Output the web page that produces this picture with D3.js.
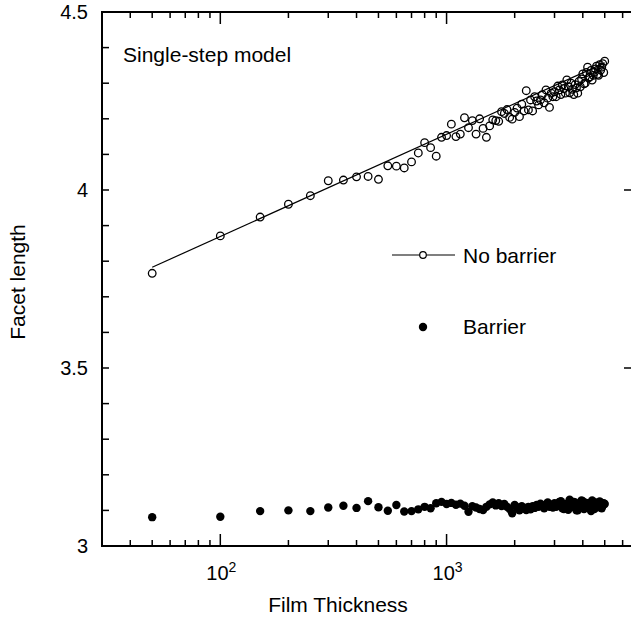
<!DOCTYPE html>
<html lang="en">
<head>
    <meta charset="UTF-8">
    <title>Facet length vs film thickness</title>
    <script src="https://d3js.org/d3.v7.min.js"></script>
    <style>
        body { margin: 0; background: #fff; }
        text { font-family: "Liberation Sans", Arial, sans-serif; fill: #000; }
    </style>
</head>
<body>
    <script>

        // film thickness (x), same for both runs
        var thickness = [50, 100, 150, 200, 250, 300, 350, 400, 450, 500,
            550, 600, 650, 700, 750, 800, 850, 900, 950, 1000,
            1050, 1100, 1150, 1200, 1250, 1300, 1350, 1400, 1450, 1500,
            1550, 1600, 1650, 1700, 1750, 1800, 1850, 1900, 1950, 2000,
            2050, 2100, 2150, 2200, 2250, 2300, 2350, 2400, 2450, 2500,
            2550, 2600, 2650, 2700, 2750, 2800, 2850, 2900, 2950, 3000,
            3050, 3100, 3150, 3200, 3250, 3300, 3350, 3400, 3450, 3500,
            3550, 3600, 3650, 3700, 3750, 3800, 3850, 3900, 3950, 4000,
            4050, 4100, 4150, 4200, 4250, 4300, 4350, 4400, 4450, 4500,
            4550, 4600, 4650, 4700, 4750, 4800, 4850, 4900, 4950, 5000]

        var noBarrier = [3.766, 3.871, 3.924, 3.960, 3.984, 4.026, 4.028, 4.037, 4.038, 4.030,
            4.068, 4.067, 4.062, 4.079, 4.104, 4.133, 4.119, 4.095, 4.148, 4.153,
            4.185, 4.150, 4.157, 4.203, 4.175, 4.195, 4.157, 4.200, 4.173, 4.148,
            4.180, 4.197, 4.195, 4.193, 4.220, 4.215, 4.226, 4.204, 4.199, 4.218,
            4.230, 4.206, 4.241, 4.222, 4.279, 4.225, 4.253, 4.222, 4.262, 4.250,
            4.239, 4.253, 4.268, 4.245, 4.281, 4.258, 4.232, 4.272, 4.262, 4.276,
            4.262, 4.292, 4.281, 4.268, 4.295, 4.285, 4.272, 4.309, 4.290, 4.273,
            4.300, 4.283, 4.268, 4.296, 4.287, 4.272, 4.305, 4.290, 4.312, 4.326,
            4.298, 4.300, 4.330, 4.345, 4.315, 4.318, 4.336, 4.309, 4.322, 4.331,
            4.340, 4.348, 4.325, 4.322, 4.352, 4.337, 4.345, 4.355, 4.330, 4.362]

        var barrier = [3.081, 3.082, 3.098, 3.100, 3.098, 3.108, 3.113, 3.107, 3.126, 3.109,
            3.099, 3.115, 3.097, 3.098, 3.103, 3.110, 3.106, 3.120, 3.124, 3.118,
            3.121, 3.116, 3.119, 3.113, 3.096, 3.112, 3.108, 3.104, 3.101, 3.110,
            3.117, 3.122, 3.114, 3.120, 3.112, 3.118, 3.110, 3.104, 3.092, 3.115,
            3.108, 3.100, 3.112, 3.105, 3.101, 3.110, 3.103, 3.112, 3.107, 3.115,
            3.110, 3.119, 3.112, 3.106, 3.117, 3.122, 3.110, 3.115, 3.108, 3.120,
            3.110, 3.113, 3.124, 3.126, 3.106, 3.104, 3.118, 3.118, 3.102, 3.130,
            3.112, 3.110, 3.124, 3.122, 3.100, 3.100, 3.116, 3.116, 3.128, 3.126,
            3.104, 3.108, 3.121, 3.120, 3.112, 3.112, 3.098, 3.128, 3.115, 3.104,
            3.122, 3.118, 3.109, 3.110, 3.125, 3.122, 3.106, 3.114, 3.120, 3.118]

        // fitted line through the no-barrier points (end points)
        var fitX = [50, 5000]
        var fitY = [3.783, 4.357]

        var yTicks = [3, 3.5, 4, 4.5]
        var xTickExp = [2, 3]

        var w = 631, h = 617
        var padL = 102, padR = 632, padT = 12, padB = 546

        var svg = d3.select('body')
                    .append('svg')
                    .attr('width', w)
                    .attr('height', h)

        var xScale = d3.scaleLog()
                        .domain([30, 6600])
                        .range([padL, padR])

        var yScale = d3.scaleLinear()
                        .domain([3, 4.5])
                        .range([padB, padT])

        var minorX = [], majorX = []
        ;[10, 100, 1000].forEach(function (dec) {
            for (var k = 1; k <= 9; k++) {
                var v = dec * k
                if (v < 30 || v > 6600) continue
                if (k === 1) majorX.push(v); else minorX.push(v)
            }
        })
        var yMinor = d3.range(30, 46).map(function (d) { return d / 10 })

        // axes frame
        var axes = svg.append('g').attr('stroke', '#000')

        axes.selectAll('.xminb').data(minorX).enter().append('line')
            .attr('x1', d => xScale(d)).attr('x2', d => xScale(d))
            .attr('y1', padB).attr('y2', padB - 6).attr('stroke-width', 1.5)
        axes.selectAll('.xmajb').data(majorX).enter().append('line')
            .attr('x1', d => xScale(d)).attr('x2', d => xScale(d))
            .attr('y1', padB).attr('y2', padB - 12).attr('stroke-width', 1.5)
        axes.selectAll('.xmint').data(minorX).enter().append('line')
            .attr('x1', d => xScale(d)).attr('x2', d => xScale(d))
            .attr('y1', padT).attr('y2', padT + 6).attr('stroke-width', 1.5)
        axes.selectAll('.xmajt').data(majorX).enter().append('line')
            .attr('x1', d => xScale(d)).attr('x2', d => xScale(d))
            .attr('y1', padT).attr('y2', padT + 12).attr('stroke-width', 1.5)

        axes.selectAll('.yl').data(yMinor).enter().append('line')
            .attr('x1', padL).attr('x2', padL + 7)
            .attr('y1', d => yScale(d)).attr('y2', d => yScale(d)).attr('stroke-width', 1.5)
        axes.selectAll('.yr').data(yTicks).enter().append('line')
            .attr('x1', padR).attr('x2', padR - 8)
            .attr('y1', d => yScale(d)).attr('y2', d => yScale(d)).attr('stroke-width', 1.5)

        axes.append('rect')
            .attr('x', padL).attr('y', padT)
            .attr('width', padR - padL).attr('height', padB - padT)
            .attr('fill', 'none').attr('stroke-width', 2)

        // tick labels
        svg.selectAll('.ylab').data(yTicks).enter().append('text')
            .attr('x', 88).attr('y', d => yScale(d) + 7)
            .attr('text-anchor', 'end').attr('font-size', 20)
            .text(d => d)

        var xl = svg.selectAll('.xlab').data(xTickExp).enter().append('text')
            .attr('x', d => xScale(Math.pow(10, d)) - 14)
            .attr('y', 580).attr('font-size', 20)
        xl.append('tspan').text('10')
        xl.append('tspan').attr('dy', -8).attr('font-size', 14).text(d => d)

        svg.append('text')
            .attr('x', 338).attr('y', 612)
            .attr('text-anchor', 'middle').attr('font-size', 21)
            .text('Film Thickness')

        svg.append('text')
            .attr('transform', 'translate(25,' + 282 + ') rotate(-90)')
            .attr('text-anchor', 'middle').attr('font-size', 21)
            .text('Facet length')

        svg.append('text')
            .attr('x', 123).attr('y', 62).attr('font-size', 21)
            .text('Single-step model')

        // fit line
        var line = d3.line()
                    .x(d => xScale(d[0]))
                    .y(d => yScale(d[1]))
        svg.append('path')
            .datum(d3.zip(fitX, fitY))
            .attr('d', line)
            .attr('fill', 'none').attr('stroke', '#000').attr('stroke-width', 1.2)

        // points
        svg.selectAll('.open').data(d3.zip(thickness, noBarrier)).enter().append('circle')
            .attr('cx', d => xScale(d[0])).attr('cy', d => yScale(d[1]))
            .attr('r', 3.8).attr('fill', 'none').attr('stroke', '#000').attr('stroke-width', 1.3)

        svg.selectAll('.filled').data(d3.zip(thickness, barrier)).enter().append('circle')
            .attr('cx', d => xScale(d[0])).attr('cy', d => yScale(d[1]))
            .attr('r', 4.2).attr('fill', '#000')

        // legend
        var lg = svg.append('g')
        lg.append('line').attr('x1', 392).attr('x2', 455).attr('y1', 255).attr('y2', 255)
            .attr('stroke', '#000').attr('stroke-width', 1.2)
        lg.append('circle').attr('cx', 423).attr('cy', 255).attr('r', 3.3)
            .attr('fill', '#fff').attr('stroke', '#000').attr('stroke-width', 1.2)
        lg.append('text').attr('x', 463).attr('y', 263).attr('font-size', 21).text('No barrier')
        lg.append('circle').attr('cx', 423).attr('cy', 327).attr('r', 4.2).attr('fill', '#000')
        lg.append('text').attr('x', 463).attr('y', 334).attr('font-size', 21).text('Barrier')

    </script>
</body>
</html>
